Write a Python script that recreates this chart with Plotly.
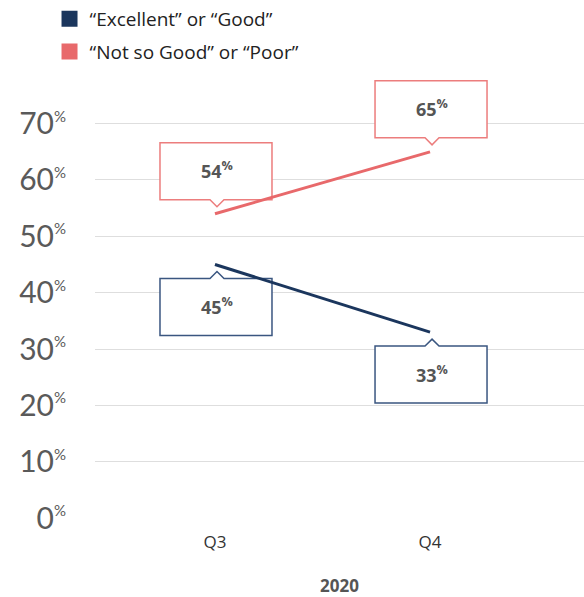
import plotly.graph_objects as go

quarters = ["Q3", "Q4"]
year_label = "2020"
series_names = ["\u201cExcellent\u201d or \u201cGood\u201d", "\u201cNot so Good\u201d or \u201cPoor\u201d"]
good_vals = [45, 33]
poor_vals = [54, 65]
y_ticks = [0, 10, 20, 30, 40, 50, 60, 70]

NAVY = "#1b365d"
RED = "#e8696b"
NAVY_BORDER = "#3a5680"
RED_BORDER = "#ec7d7d"
GREY_TXT = "#555555"

x_idx = list(range(len(quarters)))

fig = go.Figure()

# legend entries (square markers)
fig.add_trace(go.Scatter(x=[None], y=[None], mode="markers", name=series_names[0],
                         marker=dict(symbol="square", size=19, color=NAVY), legendgroup="a"))
fig.add_trace(go.Scatter(x=[None], y=[None], mode="markers", name=series_names[1],
                         marker=dict(symbol="square", size=19, color=RED), legendgroup="b"))

# lines
fig.add_trace(go.Scatter(x=x_idx, y=poor_vals, mode="lines", line=dict(color=RED, width=3),
                         showlegend=False, hoverinfo="skip", cliponaxis=False))
fig.add_trace(go.Scatter(x=x_idx, y=good_vals, mode="lines", line=dict(color=NAVY, width=3),
                         showlegend=False, hoverinfo="skip", cliponaxis=False))

# callout bubbles (pixel offsets relative to the data point, y up-positive)
HL, HR = -55, 57
GAP, H = 14, 57
TIP = 7
NC, NW = 2, 7


def bubble_path(above):
    if above:
        b, t, tip = GAP, GAP + H, TIP
    else:
        b, t, tip = -GAP, -GAP - H, -TIP
    return (f"M {HL},{b} L {HL},{t} L {HR},{t} L {HR},{b} L {NC+NW},{b} "
            f"L {NC},{tip} L {NC-NW},{b} Z")


shapes = []
annotations = []
for xi, v in zip(x_idx, poor_vals):
    shapes.append(dict(type="path", xref="x", yref="y", xsizemode="pixel", ysizemode="pixel",
                       xanchor=xi, yanchor=v, path=bubble_path(True),
                       line=dict(color=RED_BORDER, width=1.5), fillcolor="white", layer="between"))
    annotations.append(dict(x=xi, y=v, xref="x", yref="y", showarrow=False,
                            text=f"<b>{v}<sup>%</sup></b>", xshift=NC, yshift=GAP + H / 2 + 1,
                            font=dict(size=18, color=GREY_TXT, family="Open Sans")))
for xi, v in zip(x_idx, good_vals):
    shapes.append(dict(type="path", xref="x", yref="y", xsizemode="pixel", ysizemode="pixel",
                       xanchor=xi, yanchor=v, path=bubble_path(False),
                       line=dict(color=NAVY_BORDER, width=1.5), fillcolor="white", layer="between"))
    annotations.append(dict(x=xi, y=v, xref="x", yref="y", showarrow=False,
                            text=f"<b>{v}<sup>%</sup></b>", xshift=NC, yshift=-(GAP + H / 2) + 1,
                            font=dict(size=18, color=GREY_TXT, family="Open Sans")))

PLOT_H = 597 - 70 - 79
fig.update_layout(
    width=584, height=597,
    margin=dict(l=95, r=0, t=70, b=79),
    paper_bgcolor="white", plot_bgcolor="white",
    font=dict(family="Open Sans", color=GREY_TXT),
    shapes=shapes, annotations=annotations,
    showlegend=True,
    legend=dict(x=-0.093, y=1 + 74 / PLOT_H, xanchor="left", yanchor="top",
                font=dict(size=19, color="#222222"), tracegroupgap=5,
                bgcolor="rgba(0,0,0,0)"),
    xaxis=dict(range=[-0.558, 1.716], tickvals=x_idx, ticktext=quarters,
               showgrid=False, zeroline=False, showline=False, ticks="",
               ticklabelstandoff=12,
               tickfont=dict(size=17, color="#333333"),
               title=dict(text=f"<b>{year_label}</b>", font=dict(size=17, color=GREY_TXT), standoff=29)),
    yaxis=dict(range=[0, 70 * PLOT_H / 397], tickvals=y_ticks,
               ticktext=[f"{t}<sup><span style='font-size:15px'>%</span></sup>" for t in y_ticks],
               showgrid=True, gridcolor="#dedede", gridwidth=1, zeroline=False, showline=False,
               ticks="", ticklabelstandoff=28,
               tickfont=dict(size=30, color="#5a5a5a", family="Lato")),
)

fig.write_html("out.html")
